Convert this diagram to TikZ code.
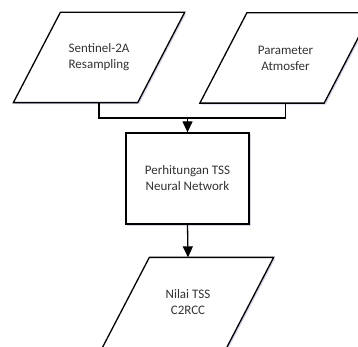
\documentclass[tikz,border=0pt]{standalone}
\usepackage{fontspec}
\setmainfont{Carlito}
\usetikzlibrary{arrows.meta,backgrounds}
\begin{document}
\begin{tikzpicture}[x=1pt,y=-1pt,
  line width=1.3pt,
  label/.style={font=\fontsize{13}{16}\selectfont, text=black!80, align=center},
  iobox/.style={label, minimum width=123pt, minimum height=89pt, inner sep=0pt},
  process/.style={rectangle, draw=black, fill=white, label, minimum width=123pt, minimum height=91pt, inner sep=0pt},
  outline/.style={draw=black, fill=white, line width=1.3pt, line join=miter},
  glow/.style={fill=blue!30!gray!25, draw=none},
  flow/.style={-{Triangle[width=10pt,length=11pt]}}]
  \useasboundingbox (0,0) rectangle (358,347);
  \begin{scope}
    \clip (0,0) rectangle (358,347);
    % slanted data boxes (text only; outlines go on the background layer)
    \node[iobox] (s2) at (99,57.5) {Sentinel-2A\\Resampling};
    \node[iobox] (atm) at (285.5,58) {Parameter\\Atmosfer};
    \node[iobox] (out) at (188,302.5) {Nilai TSS\\C2RCC};
    \node[process] (nn) at (187.5,178.5) {Perhitungan TSS\\Neural Network};
    \begin{scope}[on background layer]
      % parallelogram outlines, slanted by 47pt over their height, with a soft shadow
      \foreach \n in {s2,atm,out} {
        \fill[glow] ([shift={(25,1.5)}]\n.north west) -- ([shift={(25,1.5)}]\n.north east)
          -- ([shift={(-22,1.5)}]\n.south east) -- ([shift={(-22,1.5)}]\n.south west) -- cycle;
        \path[outline] ([xshift=23.5pt]\n.north west) -- ([xshift=23.5pt]\n.north east)
          -- ([xshift=-23.5pt]\n.south east) -- ([xshift=-23.5pt]\n.south west) -- cycle;
      }
      \fill[glow] ([shift={(1.5,1.5)}]nn.north west) rectangle ([shift={(1.5,1.5)}]nn.south east);
    \end{scope}
    % connectors
    \coordinate (join) at (187.5,118);
    \draw (s2.south) |- (join) -| (atm.south);
    \draw[flow] (join) -- (nn.north);
    \draw[flow] (nn.south) -- (out.north);
  \end{scope}
\end{tikzpicture}
\end{document}
